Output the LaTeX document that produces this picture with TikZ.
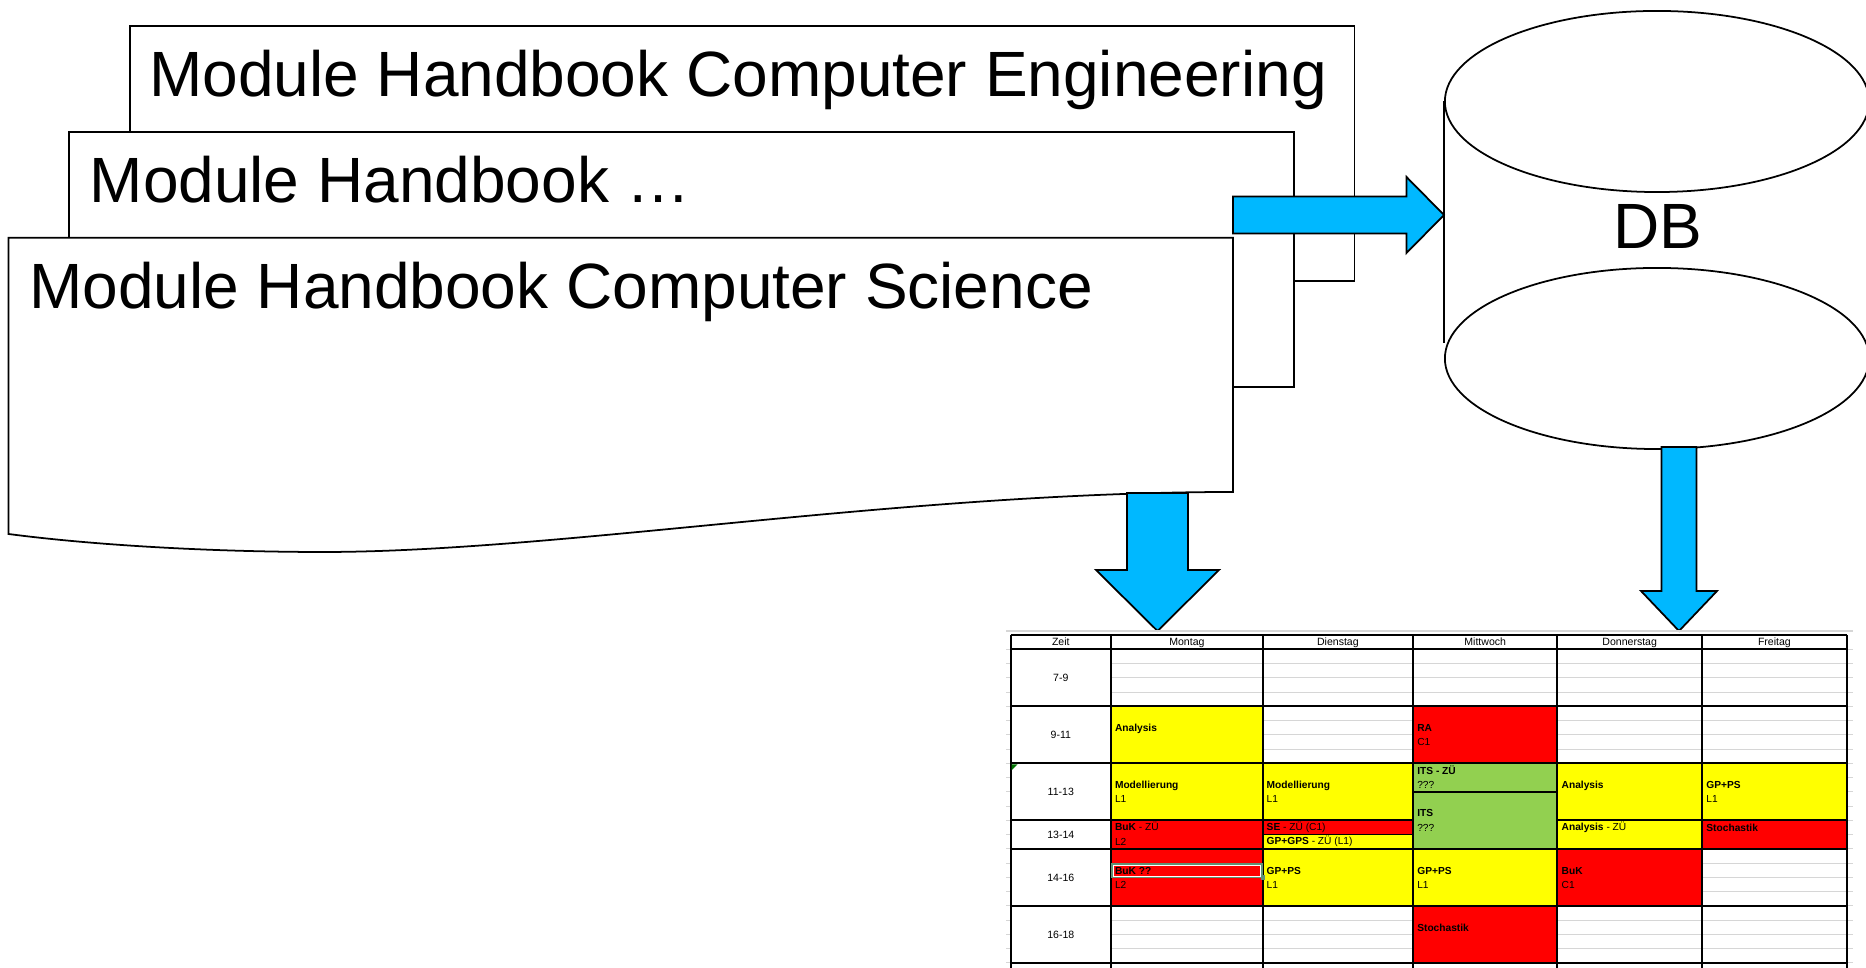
\documentclass[tikz,border=0pt]{standalone}
\usepackage{fontspec}
\setmainfont{Liberation Sans}
\usetikzlibrary{calc,shapes.geometric}

\definecolor{arrowblue}{RGB}{0,184,255}
\definecolor{slotyellow}{RGB}{255,255,0}
\definecolor{slotred}{RGB}{255,0,0}
\definecolor{slotgreen}{RGB}{146,208,80}
\definecolor{sheetgray}{RGB}{214,214,214}
\definecolor{selgreen}{RGB}{96,146,116}

\tikzset{
  docpage/.style={draw=black, fill=white, line width=0.5pt},
  doclabel/.style={anchor=base west, inner sep=0pt, font=\fontsize{18.2}{22}\selectfont},
  dbdisk/.style={ellipse, draw=black, fill=white, line width=0.5pt, inner sep=0pt,
    minimum width=4.24cm, minimum height=1.81cm},
  blockarrow/.style={draw=black, fill=arrowblue, line width=0.5pt, line join=miter},
  ttgrid/.style={draw=black, line width=0.55pt},
  ttfaint/.style={draw=sheetgray, line width=0.3pt},
  tthead/.style={anchor=base, yshift=-1.07pt, inner sep=0pt, font=\fontsize{3}{3.5}\selectfont},
  ttentry/.style={anchor=base west, yshift=-1.03pt, inner sep=0pt, font=\fontsize{2.9}{3.4}\selectfont},
}

% block arrows: start, tip, body half width, head half width, head length
\newcommand{\downblock}[5]{%
  \draw[blockarrow] ($(#1)+(-#3,0)$) -- ($(#1)+(#3,0)$) -- ($(#2)+(#3,-#5)$)
    -- ($(#2)+(#4,-#5)$) -- (#2) -- ($(#2)+(-#4,-#5)$) -- ($(#2)+(-#3,-#5)$) -- cycle;}
\newcommand{\rightblock}[5]{%
  \draw[blockarrow] ($(#1)+(0,-#3)$) -- ($(#2)+(-#5,-#3)$) -- ($(#2)+(-#5,-#4)$)
    -- (#2) -- ($(#2)+(-#5,#4)$) -- ($(#2)+(-#5,#3)$) -- ($(#1)+(0,#3)$) -- cycle;}

\begin{document}
\begin{tikzpicture}[x=0.01cm, y=-0.01cm]
\useasboundingbox (0,0) rectangle (1866,968);

%% module handbooks
\draw[docpage] (129.8,26) rectangle (1354.5,281.3);
\node[doclabel] (hbCE) at (148.5,96.5) {Module Handbook Computer Engineering};
\draw[docpage] (69,132) rectangle (1294,387);
\node[doclabel] (hbMore) at (89,203) {Module Handbook …};
\draw[docpage] (8.5,237.7) -- (1233,237.7) -- (1233,492)
  .. controls (900,492) and (560,552) .. (323,552)
  .. controls (220,552) and (100,546) .. (8.5,534) -- cycle;
\node[doclabel] (hbCS) at (28.5,308.5) {Module Handbook Computer Science};

%% data base
\node[dbdisk] (dbTop) at (1657,101.5) {};
\draw[docpage] (dbTop.west) -- (dbTop.west |- 0,343);
\node[dbdisk] (dbBot) at (1657,358.5) {};
\node[doclabel, anchor=base] (dbLabel) at (1657.5,249) {DB};

%% arrows
\coordinate (hbOut) at (1233,215);
\coordinate (dbIn) at (dbTop.west |- hbOut);
\rightblock{hbOut}{dbIn}{18.5}{38}{37.5}
\coordinate (csOut) at (1157.5,493);
\coordinate (monIn) at (1157.5,631);
\downblock{csOut}{monIn}{30.5}{61.5}{61}
\coordinate (dbOut) at (1679,447);
\coordinate (donIn) at (1679,631);
\downblock{dbOut}{donIn}{17.5}{38}{40}

%% timetable
% sheet lines
\draw[ttfaint] (1006,631) -- (1853,631);
\foreach \k in {0,...,22}
  \draw[ttfaint] (1006,649.3+14.25*\k) -- (1853,649.3+14.25*\k);
\fill[white] (1010.7,649.3) rectangle (1111,962.8);
% lectures
\foreach \xa/\ya/\xb/\yb/\slotcol in {
    1111/706.3/1262.7/763.3/slotyellow, 1111/763.3/1262.7/820.3/slotyellow,
    1111/820.3/1262.7/848.8/slotred, 1111/848.8/1262.7/905.8/slotred,
    1262.7/763.3/1413/820.3/slotyellow, 1262.7/820.3/1413/834.5/slotred,
    1262.7/834.5/1413/848.8/slotyellow, 1262.7/848.8/1413/905.8/slotyellow,
    1413/706.3/1557.3/763.3/slotred, 1413/763.3/1557.3/791.8/slotgreen,
    1413/791.8/1557.3/848.8/slotgreen, 1413/848.8/1557.3/905.8/slotyellow,
    1413/905.8/1557.3/962.8/slotred,
    1557.3/763.3/1702/820.3/slotyellow, 1557.3/820.3/1702/848.8/slotyellow,
    1557.3/848.8/1702/905.8/slotred,
    1702/763.3/1846.7/820.3/slotyellow, 1702/820.3/1846.7/848.8/slotred}
  \draw[ttgrid, fill=\slotcol] (\xa,\ya) rectangle (\xb,\yb);
% grid
\foreach \rowy in {635,649.3,706.3,763.3,848.8,905.8,962.8}
  \draw[ttgrid] (1010.7,\rowy) -- (1846.7,\rowy);
\draw[ttgrid] (1010.7,820.3) -- (1413,820.3) (1557.3,820.3) -- (1846.7,820.3);
\foreach \colx in {1010.7,1111,1262.7,1413,1557.3,1702,1846.7}
  \draw[ttgrid] (\colx,635) -- (\colx,968);
\fill[green!45!black] (1011.6,764.3) -- (1017.6,764.3) -- (1011.6,770.2) -- cycle;
% selected cell
\draw[selgreen, line width=0.45pt] (1112.2,864.3) rectangle (1262.2,877.5);
\draw[white, line width=0.3pt] (1113.6,865.7) rectangle (1260.8,876.1);
\fill[selgreen] (1260.6,875.2) rectangle (1265,879.6);

\foreach \colx/\hdtxt [count=\i] in {1060.8/Zeit, 1186.9/Montag, 1337.9/Dienstag,
    1485.2/Mittwoch, 1629.7/Donnerstag, 1774.4/Freitag}
  \node[tthead] (head\i) at (\colx,642.2) {\hdtxt};
\foreach \rowy/\sltxt [count=\i] in {677.8/7-9, 734.8/9-11, 791.8/11-13,
    834.5/13-14, 877.3/14-16, 934.3/16-18}
  \node[tthead] (time\i) at (1060.8,\rowy) {\sltxt};
\foreach \colx/\rowy/\celltxt [count=\i] in {
    1114.3/727.7/\textbf{Analysis},
    1114.3/785/\textbf{Modellierung}, 1114.3/799.3/L1,
    1114.3/827/\textbf{BuK} - ZÜ, 1114.3/842/L2,
    1114.3/870.5/\textbf{BuK ??}, 1114.3/885/L2,
    1266/785/\textbf{Modellierung}, 1266/799.3/L1,
    1266/827/\textbf{SE} - ZÜ (C1), 1266/841.3/\textbf{GP+GPS} - ZÜ (L1),
    1266/870.5/\textbf{GP+PS}, 1266/885/L1,
    1416.6/728/\textbf{RA}, 1416.6/742.3/C1,
    1416.6/770.7/\textbf{ITS - ZÜ}, 1416.6/785/???,
    1416.6/813.3/\textbf{ITS}, 1416.6/827.7/???,
    1416.6/870.5/\textbf{GP+PS}, 1416.6/885/L1,
    1416.6/927.7/\textbf{Stochastik},
    1561/785/\textbf{Analysis}, 1561/827/\textbf{Analysis} - ZÜ,
    1561/870.5/\textbf{BuK}, 1561/885/C1,
    1705.7/785/\textbf{GP+PS}, 1705.7/799.3/L1,
    1705.7/828/\textbf{Stochastik}}
  \node[ttentry] (lect\i) at (\colx,\rowy) {\celltxt};
\end{tikzpicture}
\end{document}
